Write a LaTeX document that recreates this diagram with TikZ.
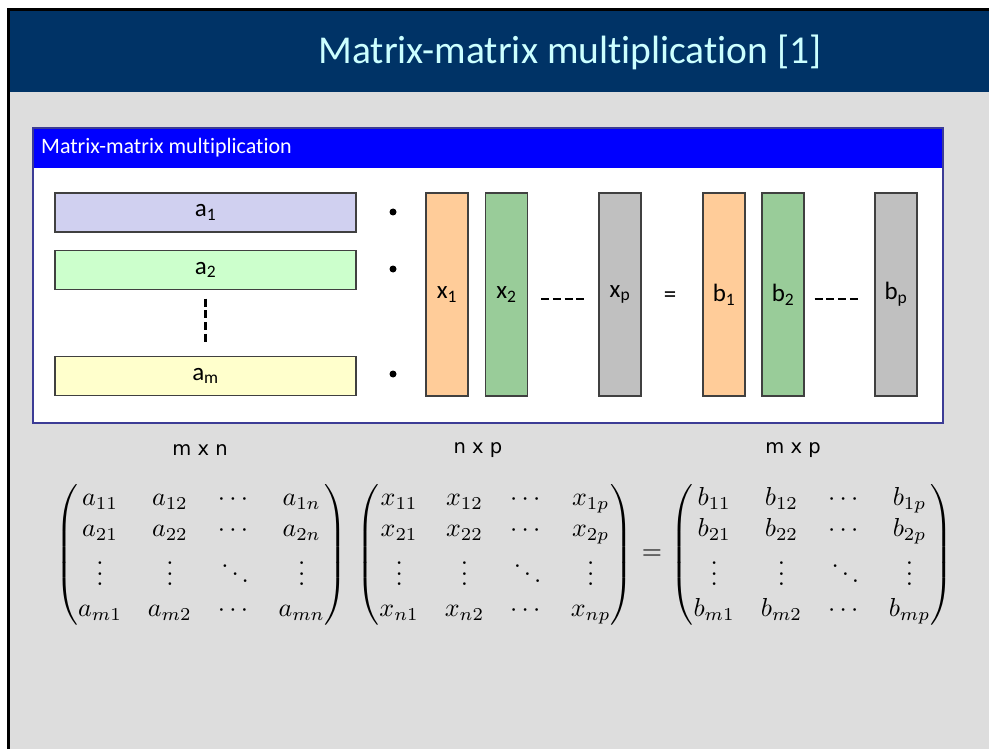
\documentclass[tikz,border=0pt]{standalone}
\usepackage[no-math]{fontspec}
\usepackage{amsmath}
\setmainfont{Carlito}[Ligatures=NoCommon]
\newfontfamily\dejavu{DejaVu Sans}
\newfontfamily\lmfont{Latin Modern Roman}
\definecolor{titlebg}{RGB}{0,51,102}
\definecolor{titlecyan}{RGB}{204,255,255}
\definecolor{slidegray}{RGB}{221,221,221}
\definecolor{blockblue}{RGB}{0,0,255}
\definecolor{blockborder}{RGB}{60,60,150}
\definecolor{lav}{RGB}{208,208,240}
\definecolor{mint}{RGB}{204,255,204}
\definecolor{cream}{RGB}{255,255,204}
\definecolor{peach}{RGB}{255,204,153}
\definecolor{sage}{RGB}{153,204,153}
\definecolor{silver}{RGB}{192,192,192}
\definecolor{bargray}{RGB}{64,64,64}
\tikzset{
  rowbar/.style={draw=bargray, line width=1.3, minimum width=301, minimum height=39, inner sep=0, font=\fontsize{25}{30}\selectfont},
  colbar/.style={draw=bargray, line width=1.3, minimum width=42, minimum height=203, inner sep=0, font=\fontsize{25}{30}\selectfont},
  dotnode/.style={circle, fill=black, minimum size=7, inner sep=0},
  dashline/.style={line width=2.6, dash pattern=on 8 off 3.7},
  dimlabel/.style={font=\dejavu\fontsize{19.5}{23}\selectfont},
  matnode/.style={font=\lmfont\fontsize{10}{12}\selectfont, inner sep=0, scale=2.6, transform shape},
}
\begin{document}
\begin{tikzpicture}[x=1pt,y=-1pt]
\useasboundingbox (0,0) rectangle (989,749);
\fill[white] (0,0) rectangle (989,749);
\fill[slidegray] (9,92) rectangle (989,749);
\fill[titlebg] (9,10) rectangle (989,92);
\draw[black, line width=3] (8.5,749) -- (8.5,10) -- (989,10);
\node[font=\fontsize{39.5}{47}\selectfont, text=titlecyan] (title) at (570,52) {Matrix-matrix multiplication [1]};
% block
\fill[white] (33,168) rectangle (943,423);
\fill[blockblue] (33,128) rectangle (943,168);
\draw[blockborder, line width=1.2] (33,128) rectangle (943,423);
\node[anchor=west, text=white, font=\fontsize{22}{26}\selectfont, inner sep=0] (htitle) at (41,148) {Matrix-matrix multiplication};
% rows
\node[rowbar, fill=lav] (a1) at (205.5,212.5) {a\textsubscript{1}};
\node[rowbar, fill=mint] (a2) at (205.5,270) {a\textsubscript{2}};
\node[rowbar, fill=cream] (am) at (205.5,376) {a\textsubscript{m}};
\draw[dashline] ([yshift=-8.5pt]a2.south) -- ([yshift=13.5pt]am.north);
\node[dotnode] (d1) at (393,212) {};
\node[dotnode] (d2) at (393,269) {};
\node[dotnode] (d3) at (393,374) {};
% columns
\node[colbar, fill=peach] (x1) at (447,294.5) {x\textsubscript{1}};
\node[colbar, fill=sage] (x2) at (506.5,294.5) {x\textsubscript{2}};
\node[colbar, fill=silver] (xp) at (620,294.5) {x\textsubscript{p}};
\node[font=\fontsize{25}{30}\selectfont] (eq) at (670,297) {=};
\node[colbar, fill=peach] (b1) at (724,294.5) {b\textsubscript{1}};
\node[colbar, fill=sage] (b2) at (783,294.5) {b\textsubscript{2}};
\node[colbar, fill=silver] (bp) at (896,294.5) {b\textsubscript{p}};
\draw[dashline] ([xshift=13pt,yshift=-4.5pt]x2.east) -- ([xshift=-14pt,yshift=-4.5pt]xp.west);
\draw[dashline] ([xshift=10pt,yshift=-4.5pt]b2.east) -- ([xshift=-16pt,yshift=-4.5pt]bp.west);
% dims
\node[dimlabel] (dA) at (200,450) {m x n};
\node[dimlabel] (dX) at (478,450) {n x p};
\node[dimlabel] (dB) at (793,450) {m x p};
% matrices
\node[matnode] (mA) at (201.5,555) {$\begin{pmatrix} a_{11} & a_{12} & \cdots & a_{1n}\\ a_{21} & a_{22} & \cdots & a_{2n}\\ \vdots & \vdots & \ddots & \vdots\\ a_{m1} & a_{m2} & \cdots & a_{mn}\end{pmatrix}$};
\node[matnode] (mX) at (495,555) {$\begin{pmatrix} x_{11} & x_{12} & \cdots & x_{1p}\\ x_{21} & x_{22} & \cdots & x_{2p}\\ \vdots & \vdots & \ddots & \vdots\\ x_{n1} & x_{n2} & \cdots & x_{np}\end{pmatrix}$};
\node[matnode] (meq) at (652,555) {$=$};
\node[matnode] (mB) at (812,555) {$\begin{pmatrix} b_{11} & b_{12} & \cdots & b_{1p}\\ b_{21} & b_{22} & \cdots & b_{2p}\\ \vdots & \vdots & \ddots & \vdots\\ b_{m1} & b_{m2} & \cdots & b_{mp}\end{pmatrix}$};
\end{tikzpicture}
\end{document}
